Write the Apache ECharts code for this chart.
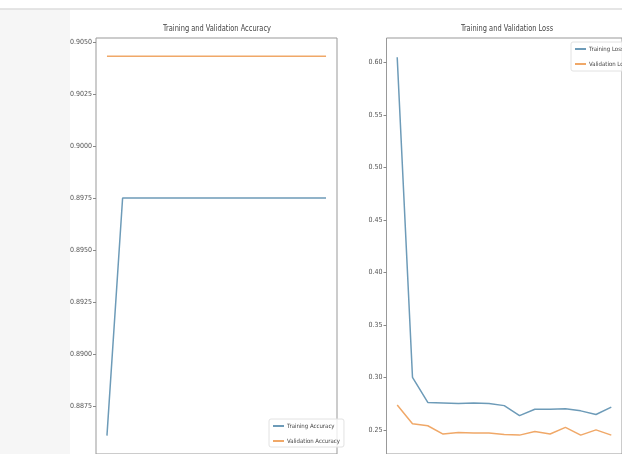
<!DOCTYPE html>
<html><head><meta charset="utf-8">
<script src="https://cdn.jsdelivr.net/npm/echarts@6/dist/echarts.min.js"></script>
<style>html,body{margin:0;padding:0;background:#fff}#c{width:622px;height:454px}</style>
</head><body><div id="c"></div>
<script>
const epochs = [0,1,2,3,4,5,6,7,8,9,10,11,12,13,14];
const trainAcc = [0.8861,0.8975,0.8975,0.8975,0.8975,0.8975,0.8975,0.8975,0.8975,0.8975,0.8975,0.8975,0.8975,0.8975,0.8975];
const valAcc = [0.9043,0.9043,0.9043,0.9043,0.9043,0.9043,0.9043,0.9043,0.9043,0.9043,0.9043,0.9043,0.9043,0.9043,0.9043];
const trainLoss = [0.605,0.300,0.276,0.2755,0.275,0.2755,0.275,0.273,0.2635,0.2695,0.2695,0.270,0.268,0.2645,0.2715];
const valLoss = [0.2736,0.2557,0.2538,0.2459,0.2475,0.247,0.247,0.2455,0.2449,0.2483,0.2459,0.2523,0.2449,0.2499,0.2449];
const accTicks = [0.8875,0.8900,0.8925,0.8950,0.8975,0.9000,0.9025,0.9050];
const lossTicks = [0.25,0.30,0.35,0.40,0.45,0.50,0.55,0.60];
const titles = ['Training and Validation Accuracy', 'Training and Validation Loss'];

const FONT = "'Liberation Sans Narrow','DejaVu Sans Condensed','DejaVu Sans',sans-serif";
const BLUE = '#6d9bb8', ORANGE = '#f0a868';
const pair = (xs, ys) => xs.map((x, i) => [x, ys[i]]);

const chart = echarts.init(document.getElementById('c'), null, {renderer: 'canvas'});
function yAxis(idx, ticks, dec, min, max) {
  return {
    type: 'value', gridIndex: idx, min: min, max: max,
    axisLine: {show: false, onZero: false},
    splitLine: {show: false},
    axisTick: {show: true, inside: false, length: 3, lineStyle: {color: '#888'}, customValues: ticks},
    axisLabel: {customValues: ticks, formatter: v => v.toFixed(dec), fontSize: 7, color: '#555', fontFamily: FONT, margin: 4}
  };
}
function xAxis(idx) {
  return {type: 'value', gridIndex: idx, min: -0.7, max: 14.7, show: false, axisLine: {onZero: false}};
}
function titleText(text, cx) {
  return {type: 'text', x: cx, y: 29, scaleX: 0.82, z: 10,
    style: {text: text, fontSize: 9, fill: '#444', fontFamily: FONT, align: 'center', verticalAlign: 'middle'}};
}
chart.setOption({
  animation: false,
  backgroundColor: '#fff',
  graphic: [
    {type: 'rect', shape: {x: 0, y: 9, width: 70, height: 445}, style: {fill: '#f6f6f6'}, z: -10},
    {type: 'line', shape: {x1: 0, y1: 9, x2: 622, y2: 9}, style: {stroke: '#dcdcdc', lineWidth: 1.5}, z: -10},
    titleText(titles[0], 217),
    titleText(titles[1], 507)
  ],
  grid: [
    {left: 96, top: 38, width: 241, height: 417.5, show: true, borderColor: '#999', borderWidth: 1, backgroundColor: 'transparent'},
    {left: 386.5, top: 38, width: 241, height: 416.5, show: true, borderColor: '#999', borderWidth: 1, backgroundColor: 'transparent'}
  ],
  xAxis: [xAxis(0), xAxis(1)],
  yAxis: [yAxis(0, accTicks, 4, 0.88522, 0.90518), yAxis(1, lossTicks, 2, 0.2269, 0.6233)],
  legend: [
    {data: ['Training Accuracy', 'Validation Accuracy'], orient: 'vertical', left: 269, top: 419,
     itemWidth: 11, itemHeight: 2, itemGap: 9, icon: 'rect', padding: [4, 4, 3, 4],
     borderColor: '#e2e2e2', borderWidth: 1, borderRadius: 2, backgroundColor: 'rgba(255,255,255,0.8)',
     textStyle: {fontSize: 6, color: '#444', fontFamily: FONT, padding: [0, 0, 0, -2]}},
    {data: ['Training Loss', 'Validation Loss'], orient: 'vertical', left: 571, top: 42,
     itemWidth: 11, itemHeight: 2, itemGap: 9, icon: 'rect', padding: [4, 4, 4, 4],
     borderColor: '#e2e2e2', borderWidth: 1, borderRadius: 2, backgroundColor: 'rgba(255,255,255,0.8)',
     textStyle: {fontSize: 6, color: '#444', fontFamily: FONT, padding: [0, 0, 0, -2]}}
  ],
  series: [
    {name: 'Training Accuracy', type: 'line', xAxisIndex: 0, yAxisIndex: 0, data: pair(epochs, trainAcc),
     showSymbol: false, color: BLUE, lineStyle: {width: 1.5, color: BLUE}},
    {name: 'Validation Accuracy', type: 'line', xAxisIndex: 0, yAxisIndex: 0, data: pair(epochs, valAcc),
     showSymbol: false, color: ORANGE, lineStyle: {width: 1.5, color: ORANGE}},
    {name: 'Training Loss', type: 'line', xAxisIndex: 1, yAxisIndex: 1, data: pair(epochs, trainLoss),
     showSymbol: false, color: BLUE, lineStyle: {width: 1.5, color: BLUE}},
    {name: 'Validation Loss', type: 'line', xAxisIndex: 1, yAxisIndex: 1, data: pair(epochs, valLoss),
     showSymbol: false, color: ORANGE, lineStyle: {width: 1.5, color: ORANGE}}
  ]
});
</script></body></html>
